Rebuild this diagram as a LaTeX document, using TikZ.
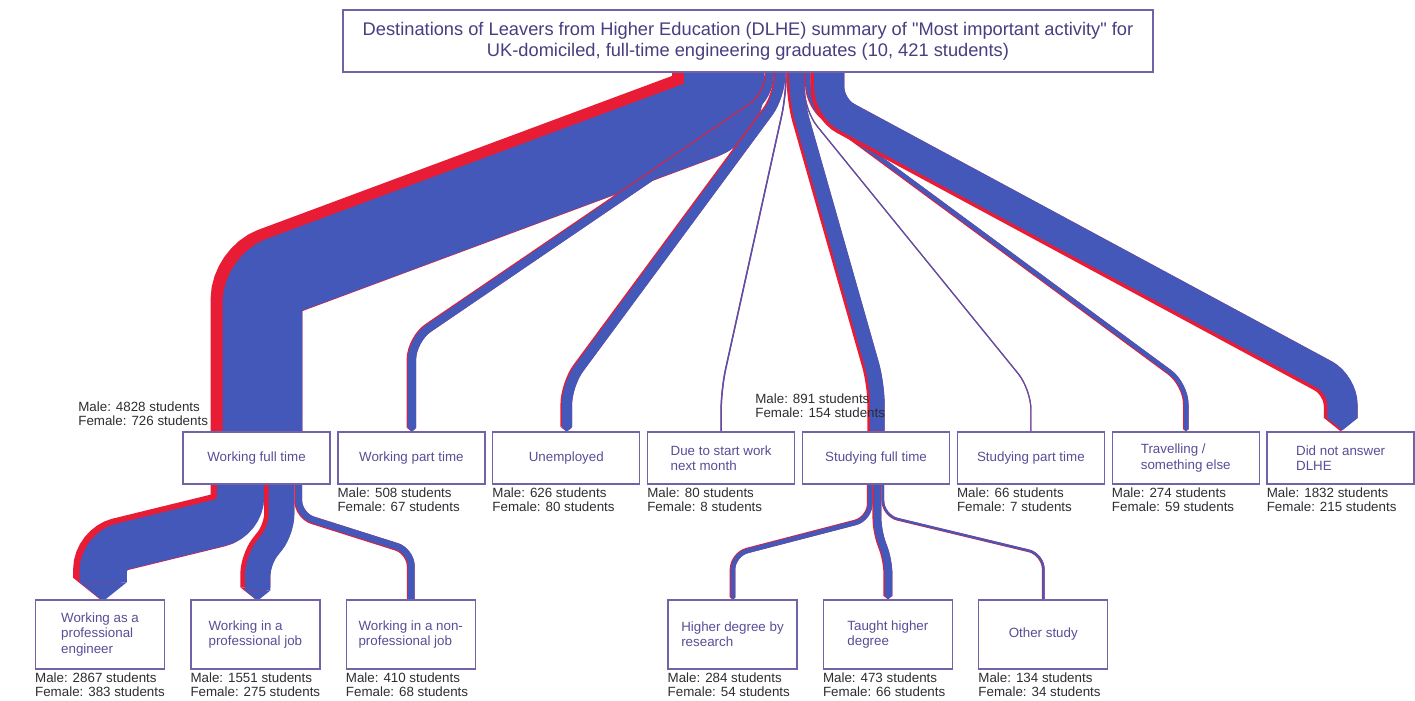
\documentclass[tikz,border=0pt]{standalone}
\usepackage{fontspec}
\setmainfont{Liberation Sans}
\newfontfamily\headfont{Liberation Sans}
\usetikzlibrary{arrows.meta,positioning,calc}
\pgfdeclarelayer{background}
\pgfsetlayers{background,main}
\definecolor{maleblue}{RGB}{68,88,186}
\definecolor{femalered}{RGB}{232,28,52}
\definecolor{boxline}{RGB}{115,98,168}
\definecolor{boxtext}{RGB}{88,78,150}
\definecolor{titletext}{RGB}{72,62,128}
\definecolor{counttext}{RGB}{45,45,50}
\tikzstyle{block} =
  [rectangle, draw=boxline, line width=0.8pt, fill=white, text=boxtext,
   align=left, font=\fontsize{7.6}{8.6}\selectfont,
   minimum width=2.94cm, minimum height=1.04cm, inner sep=0pt]
\tikzstyle{subblock} = [block, minimum width=2.58cm, minimum height=1.38cm]
\tikzstyle{headline} =
  [rectangle, draw=boxline, line width=0.8pt, fill=white, text=titletext,
   align=center, font=\headfont\fontsize{10.4}{12}\selectfont,
   minimum width=16.2cm, minimum height=1.24cm]
\tikzstyle{count} =
  [anchor=north west, align=left, inner sep=0pt, text=counttext,
   font=\fontsize{7.6}{8}\selectfont]
\tikzstyle{femaleband}=[draw=femalered, rounded corners=0.4cm]
\tikzstyle{maleband}=[draw=maleblue, rounded corners=0.4cm]
\tikzstyle{pointed}=[-{Triangle[width=\tipw, length=\tiplen, line width=0pt]}]
\newcommand{\kw}{0.00939pt}
% band: [extra] {male} {female} {side} {path}
\newcommand{\band}[5][]{%
  \pgfmathsetlengthmacro\tipw{(#2+#3)*\kw}%
  \pgfmathsetlengthmacro\tiplen{0.4*(#2+#3)*\kw}%
  \draw[femaleband, #1, line width=\tipw] #5;
  \pgfmathsetlengthmacro\tipw{#2*\kw}%
  \pgfmathsetlengthmacro\tiplen{0.4*#2*\kw}%
  \begin{scope}[transform canvas={xshift={#3*\kw/2}, yshift={#4*0.3*#3*\kw}}]
    \draw[maleband, #1, line width=\tipw] #5;
  \end{scope}}

\begin{document}
\begin{tikzpicture}[x=0.02cm, y=-0.02cm]
  \useasboundingbox (0,0) rectangle (1415,700);
  \node [headline] (dlhe) at (748,41) {Destinations of Leavers from Higher
  Education (DLHE) summary of "Most important activity" for\\UK-domiciled,
  full-time engineering graduates (10, 421 students)};

  % first level
  \node [block] (wft) at (256.5,458) {Working full time};
  \node [block, right=0.13cm of wft] (wpt) {Working part time};
  \node [block, right=0.13cm of wpt] (unemp) {Unemployed};
  \node [block, right=0.13cm of unemp] (due) {Due to start work\\next month};
  \node [block, right=0.13cm of due] (sft) {Studying full time};
  \node [block, right=0.13cm of sft] (spt) {Studying part time};
  \node [block, right=0.13cm of spt] (trav) {Travelling /\\something else};
  \node [block, right=0.13cm of trav] (dna) {Did not answer\\DLHE};

  % second level
  \node [subblock] (pe) at (100,634.5) {Working as a\\professional\\engineer};
  \node [subblock, right=0.5cm of pe] (pj) {Working in a\\professional job};
  \node [subblock, right=0.5cm of pj] (npj) {Working in a non-\\professional job};
  \node [subblock] (hdr) at (732.5,634.5) {Higher degree by\\research};
  \node [subblock, right=0.5cm of hdr] (thd) {Taught higher\\degree};
  \node [subblock, right=0.5cm of thd] (os) {Other study};

  % student numbers
  \node [count] (wftcount) at (78,401) {Male: 4828 students\\Female: 726 students};
  \node [count] (sftcount) at (755,393) {Male: 891 students\\Female: 154 students};
  \node [count] (wptcount) at ([yshift=-0.06cm]wpt.south west) {Male: 508 students\\Female: 67 students};
  \node [count] (unempcount) at ([yshift=-0.06cm]unemp.south west) {Male: 626 students\\Female: 80 students};
  \node [count] (duecount) at ([yshift=-0.06cm]due.south west) {Male: 80 students\\Female: 8 students};
  \node [count] (sptcount) at ([yshift=-0.06cm]spt.south west) {Male: 66 students\\Female: 7 students};
  \node [count] (travcount) at ([yshift=-0.06cm]trav.south west) {Male: 274 students\\Female: 59 students};
  \node [count] (dnacount) at ([yshift=-0.06cm]dna.south west) {Male: 1832 students\\Female: 215 students};
  \node [count] (pecount) at ([yshift=-0.05cm]pe.south west) {Male: 2867 students\\Female: 383 students};
  \node [count] (pjcount) at ([yshift=-0.05cm]pj.south west) {Male: 1551 students\\Female: 275 students};
  \node [count] (npjcount) at ([yshift=-0.05cm]npj.south west) {Male: 410 students\\Female: 68 students};
  \node [count] (hdrcount) at ([yshift=-0.05cm]hdr.south west) {Male: 284 students\\Female: 54 students};
  \node [count] (thdcount) at ([yshift=-0.05cm]thd.south west) {Male: 473 students\\Female: 66 students};
  \node [count] (oscount) at ([yshift=-0.05cm]os.south west) {Male: 134 students\\Female: 34 students};

  \begin{pgfonlayer}{background}
  \band{4828}{726}{-1}{($(dlhe.south)+(-30,-20)$) -- ++(0,55) -- ($(wft.north)+(0,-152)$) -- (wft.north)}
  \band[pointed]{508}{67}{-1}{($(dlhe.south)+(21,-20)$) -- ++(0,43) -- ($(wpt.north)+(0,-92)$) -- (wpt.north)}
  \band[pointed]{626}{80}{-1}{($(dlhe.south)+(31.4,-20)$) -- ++(0,43) -- ($(unemp.north)+(0,-47)$) -- (unemp.north)}
  \band[pointed]{80}{8}{-1}{($(dlhe.south)+(38,-20)$) -- ++(0,43) -- ($(due.north)+(0,-42)$) -- (due.north)}
  \band{891}{154}{1}{($(dlhe.south)+(47.3,-20)$) -- ++(0,48) -- ($(sft.north)+(0,-47)$) -- (sft.north)}
  \band[pointed]{66}{7}{1}{($(dlhe.south)+(56.5,-20)$) -- ++(0,58) -- ($(spt.north)+(0,-42)$) -- (spt.north)}
  \band[pointed]{274}{59}{1}{($(dlhe.south)+(59.9,-20)$) -- ++(0,53) -- ($(trav.north)+(0,-47)$) -- (trav.north)}
  \band[pointed]{1832}{215}{1}{($(dlhe.south)+(79.5,-20)$) -- ++(0,56) -- ($(dna.north)+(0,-46)$) -- (dna.north)}

  \band[pointed]{2867}{383}{-1}{($(wft.south)+(-19.2,-14)$) -- ++(0,45) -- ($(pe.north)+(0,-50)$) -- (pe.north)}
  \band[pointed, rounded corners=0.3cm]{1551}{275}{-1}{($(wft.south)+(22.7,-14)$) -- ++(0,58) -- ($(pj.north)+(0,-40)$) -- (pj.north)}
  \band[rounded corners=0.3cm]{410}{68}{1}{($(wft.south)+(41.7,-14)$) -- ++(0,45) -- ($(npj.north)+(0,-48)$) -- (npj.north)}
  \band[pointed, rounded corners=0.3cm]{284}{54}{-1}{($(sft.south)+(-6.3,-14)$) -- ++(0,48) -- ($(hdr.north)+(0,-45)$) -- (hdr.north)}
  \band[pointed, rounded corners=0.25cm]{473}{66}{1}{($(sft.south)+(0.9,-14)$) -- ++(0,60) -- ($(thd.north)+(0,-38)$) -- (thd.north)}
  \band[rounded corners=0.3cm]{134}{34}{1}{($(sft.south)+(6.8,-14)$) -- ++(0,45) -- ($(os.north)+(0,-45)$) -- (os.north)}
  \end{pgfonlayer}
\end{tikzpicture}
\end{document}
